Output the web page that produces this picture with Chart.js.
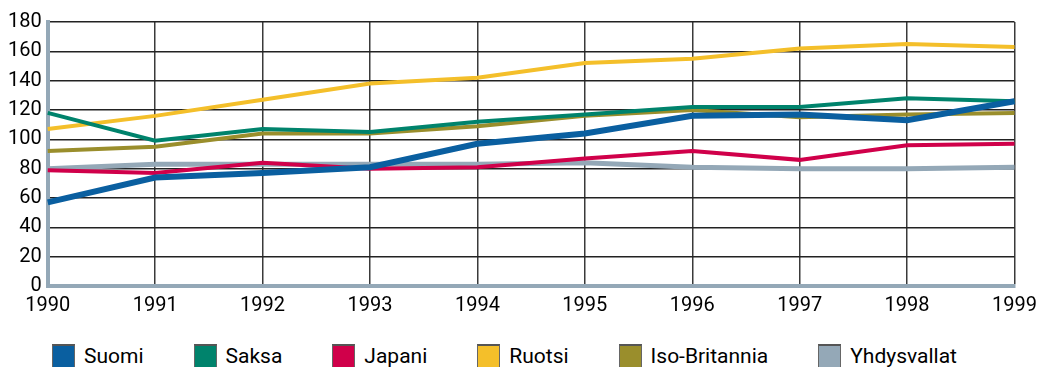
<!DOCTYPE html>
<html lang="fi">
<head>
  <meta charset="UTF-8">
  <title>Indeksi 1990–1999</title>
  <script src="https://cdn.jsdelivr.net/npm/chart.js"></script>
  <style>
    html, body { margin: 0; padding: 0; background: #fff; }
    #page { position: relative; width: 1045px; height: 367px; overflow: hidden; }
    #wrap { width: 1045px; height: 326px; }
    #legend { position: absolute; left: 52px; top: 344px; display: flex;
              gap: 50px; font-family: Roboto, sans-serif; font-size: 21px; line-height: 24px; color: #000; }
    #legend .item { display: flex; align-items: flex-start; }
    #legend .box { width: 23px; height: 24px; box-sizing: border-box; border-top: 2px solid #555;
                   border-left: 1px solid #666; border-right: 1px solid #666; margin-right: 9px; }
  </style>
</head>
<body>
  <div id="page">
    <div id="wrap"><canvas id="chart"></canvas></div>
    <div id="legend"></div>
  </div>
  <script>
    const years = ['1990','1991','1992','1993','1994','1995','1996','1997','1998','1999'];
    const suomi = [57, 74, 77, 81, 97, 104, 116, 117, 113, 126];
    const saksa = [118, 99, 107, 105, 112, 117, 122, 122, 128, 126];
    const japani = [79, 77, 84, 80, 81, 87, 92, 86, 96, 97];
    const ruotsi = [107, 116, 127, 138, 142, 152, 155, 162, 165, 163];
    const isoBritannia = [92, 95, 104, 104, 109, 116, 120, 115, 117, 118];
    const yhdysvallat = [80, 83, 83, 83, 83, 84, 81, 80, 80, 81];

    const FONT = 'Roboto, sans-serif';

    function line(label, data, color, width) {
      return { label, data, borderColor: color, backgroundColor: color, borderWidth: width,
               pointRadius: 0, tension: 0, fill: false };
    }

    const chart = new Chart(document.getElementById('chart'), {
      type: 'line',
      data: {
        labels: years,
        datasets: [
          line('Suomi', suomi, '#0a5fa0', 6),
          line('Saksa', saksa, '#00836c', 4),
          line('Japani', japani, '#d0004a', 4),
          line('Ruotsi', ruotsi, '#f4bf2a', 4),
          line('Iso-Britannia', isoBritannia, '#9a8e2c', 4),
          line('Yhdysvallat', yhdysvallat, '#94a8b7', 5)
        ]
      },
      options: {
        responsive: true,
        maintainAspectRatio: false,
        animation: false,
        layout: { padding: { top: 22, left: 2, right: -11, bottom: 0 } },
        plugins: {
          tooltip: { enabled: false },
          legend: { display: false }
        },
        scales: {
          x: {
            offset: false,
            grid: { color: '#3a3a3a', lineWidth: 1.5, drawTicks: false },
            border: { color: '#94a8b7', width: 4 },
            ticks: { color: '#000', font: { family: FONT, size: 20 }, padding: 8, maxRotation: 0 }
          },
          y: {
            min: 0,
            max: 180,
            grid: { color: '#222', lineWidth: 1.5, drawTicks: false },
            border: { color: '#94a8b7', width: 4 },
            ticks: { stepSize: 20, color: '#000', font: { family: FONT, size: 20 }, padding: 6 }
          }
        }
      }
    });

    // HTML legend built from the chart's datasets
    const legend = document.getElementById('legend');
    chart.data.datasets.forEach(ds => {
      const item = document.createElement('div');
      item.className = 'item';
      const box = document.createElement('span');
      box.className = 'box';
      box.style.background = ds.borderColor;
      const txt = document.createElement('span');
      txt.textContent = ds.label;
      item.appendChild(box);
      item.appendChild(txt);
      legend.appendChild(item);
    });
  </script>
</body>
</html>
